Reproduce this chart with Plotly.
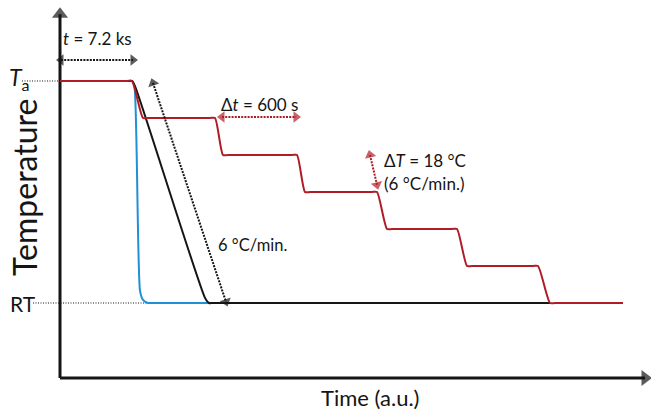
import plotly.graph_objects as go

# ---------------- data (schematic, arbitrary units) ----------------
# time in a.u. (y-axis at 0), temperature as degrees above RT
# red: stepwise cooling, 18 degC steps
t_red = [0, 6.7, 7.2, 8.3, 8.8, 15.0, 15.5, 16.3, 16.8, 23.2, 23.7, 24.5,
         25.0, 31.2, 31.7, 32.7, 33.2, 39.2, 39.7, 40.7, 41.2, 47.3, 47.8,
         49.0, 49.5, 56.3]
T_red = [108, 108, 108, 90, 90, 90, 90, 72, 72, 72, 72, 54,
         54, 54, 54, 36, 36, 36, 36, 18, 18, 18, 18,
         0, 0, 0]

# blue: quench
t_blue = [0, 6.8, 7.2, 7.45, 8.0, 8.3, 8.8, 9.3, 15.2]
T_blue = [108, 108, 108, 105, 6, 1.5, 0, 0, 0]

# black: continuous cooling at 6 degC/min
t_black = [0, 6.8, 7.2, 7.5, 14.5, 14.9, 15.3, 49.0]
T_black = [108, 108, 108, 105.5, 2.5, 0, 0, 0]

T_a = 108
T_RT = 0

# annotation arrows: (x0, y0, x1, y1)
arrow_hold = (0.1, 118.2, 7.3, 118.2)
arrow_dt = (16.2, 90.5, 23.6, 90.5)
arrow_dT = (31.0, 72.0, 31.7, 57.5)
arrow_rate = (9.3, 107.0, 16.6, 0.6)

# axes extents
x_axis_end = 59.1
y_axis_bottom = -36.5
y_axis_top = 143.5

# figure ranges
XR = [-6.0, 59.1]
YR = [-54.0, 147.4]

RED = "#b01c26"
BLUE = "#1f8fd6"
BLACK = "#151515"
FONT = "Lato"
DOT = "2px,1.2px"

fig = go.Figure()


def line(x, y, color, width, dash="solid", shape="linear", smoothing=None):
    ln = dict(color=color, width=width, dash=dash, shape=shape)
    if smoothing is not None:
        ln["smoothing"] = smoothing
    fig.add_trace(go.Scatter(x=x, y=y, mode="lines", line=ln,
                             hoverinfo="skip", showlegend=False))


def head(x0, y0, x1, y1, color, size):
    # arrowhead at (x1, y1) pointing from (x0, y0)
    fig.add_trace(go.Scatter(
        x=[x0, x1], y=[y0, y1], mode="markers",
        marker=dict(symbol="triangle-up", size=[0, size], color=color,
                    angleref="previous", line=dict(width=0)),
        hoverinfo="skip", showlegend=False))


def dotted_arrow(a, color, width=2, size=10):
    x0, y0, x1, y1 = a
    line([x0, x1], [y0, y1], color, width, dash=DOT)
    head(x0, y0, x1, y1, color, size)
    head(x1, y1, x0, y0, color, size)


# reference dotted lines
line([-3.8, 0], [T_a, T_a], BLACK, 1, dash="1px,1.5px")
line([-2.7, 8.7], [T_RT, T_RT], BLACK, 1, dash="1px,1.5px")

# axes
line([0, 0], [y_axis_bottom, y_axis_top - 3], BLACK, 3)
line([0, x_axis_end - 0.6], [y_axis_bottom, y_axis_bottom], BLACK, 3)
head(0, y_axis_bottom, 0, y_axis_top - 3, BLACK, 14)
head(0, y_axis_bottom, x_axis_end - 0.6, y_axis_bottom, BLACK, 14)

# curves
line(t_blue, T_blue, BLUE, 2, shape="spline", smoothing=0.6)
line(t_black, T_black, BLACK, 2, shape="spline", smoothing=0.6)
line(t_red, T_red, RED, 2, shape="spline", smoothing=0.6)

# dotted arrows
dotted_arrow(arrow_hold, BLACK)
dotted_arrow(arrow_rate, BLACK)
dotted_arrow(arrow_dt, RED)
dotted_arrow(arrow_dT, RED)

ann = []


def text(x, y, s, size, xanchor="center", yanchor="middle", angle=0):
    ann.append(dict(x=x, y=y, xref="x", yref="y", text=s, showarrow=False,
                    xanchor=xanchor, yanchor=yanchor, textangle=angle,
                    font=dict(family=FONT, size=size, color=BLACK)))


text(3.7, 128.9, "<i>t</i> = 7.2 ks", 17)
text(19.9, 96.8, "Δ<i>t</i> = 600 s", 17)
text(32.2, 69.4, "Δ<i>T</i> = 18 °C", 17, xanchor="left")
text(32.2, 58.3, "(6 °C/min.)", 17, xanchor="left")
text(15.6, 28.2, "6 °C/min.", 16.5, xanchor="left")
text(-5.2, T_RT, "RT", 21, xanchor="left")
text(-5.3, T_a + 1, "<i>T</i><sub>a</sub>", 23, xanchor="left")
text(-3.5, 56.0, "Temperature", 32, angle=-90)
text(31.0, -46.0, "Time (a.u.)", 22)

fig.update_layout(
    width=651, height=414,
    margin=dict(l=0, r=0, t=0, b=0),
    paper_bgcolor="white", plot_bgcolor="white",
    annotations=ann,
    xaxis=dict(range=XR, visible=False, fixedrange=True),
    yaxis=dict(range=YR, visible=False, fixedrange=True),
    showlegend=False,
)

fig.write_html("out.html", config={"displayModeBar": False},
               post_script="document.body.style.margin='0';")
